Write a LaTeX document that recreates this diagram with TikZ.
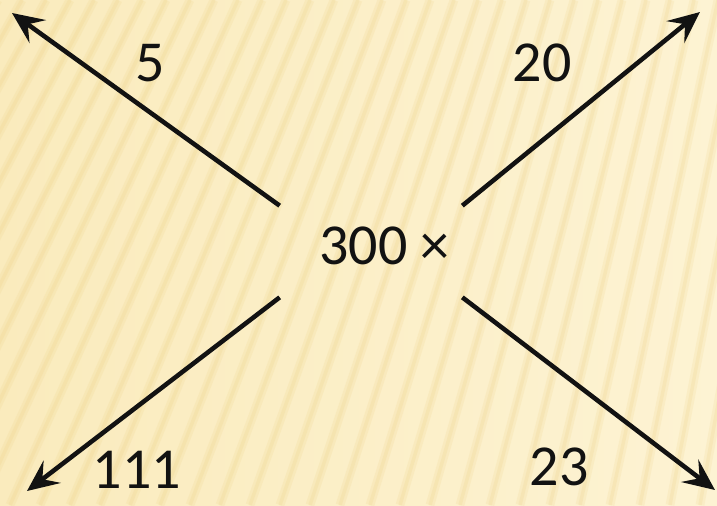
\documentclass[tikz,border=0pt]{standalone}
\usepackage{fontspec}
\setmainfont{Carlito}
\usepackage{xcolor}
\usetikzlibrary{arrows.meta,positioning,calc}

\definecolor{paper}{HTML}{FAEBBD}
\definecolor{paperlight}{HTML}{FDF3D3}
\definecolor{stripe}{HTML}{EBCB78}
\definecolor{ink}{HTML}{121212}

\begin{document}
\begin{tikzpicture}[x=0.02cm, y=-0.02cm, font=\fontsize{33}{38}\selectfont,
  num/.style={inner sep=0pt, text=ink},
  ray/.style={line width=2.6pt, draw=ink, -{Stealth[length=18pt, width=16pt, inset=7pt]}}]
\useasboundingbox (0,0) rectangle (717,505);
% background
\shade[left color=paper, right color=paperlight] (0,0) rectangle (717,505);
\begin{scope}
\clip (0,0) rectangle (717,505);
\foreach \xb in {-320,-290,...,760} {
  \draw[stripe, line width=5pt, opacity=0.14] (\xb,505) -- ({0.8*\xb+230},0);
  \draw[stripe, line width=2pt, opacity=0.16] (\xb,505) -- ({0.8*\xb+230},0);
}
\end{scope}
% centre
\node[inner sep=0pt, minimum width=3.64cm, minimum height=1.82cm] (hub) at (371,251.5) {};
\node[num] (prod) at (384.5,246) {300 ×};
% arrow ends
\coordinate (tipnw) at (12,13);
\coordinate (tipne) at (700,12);
\coordinate (tipsw) at (27,491);
\coordinate (tipse) at (715,490);
\draw[ray] (hub.north west) -- (tipnw);
\draw[ray] (hub.north east) -- (tipne);
\draw[ray] (hub.south west) -- (tipsw);
\draw[ray] (hub.south east) -- (tipse);
% labels
\node[num] (lblnw) at (150,63) {5};
\node[num] (lblne) at (542,63) {20};
\node[num] (lblsw) at (137,470) {111};
\node[num] (lblse) at (559,467) {23};
\end{tikzpicture}
\end{document}
